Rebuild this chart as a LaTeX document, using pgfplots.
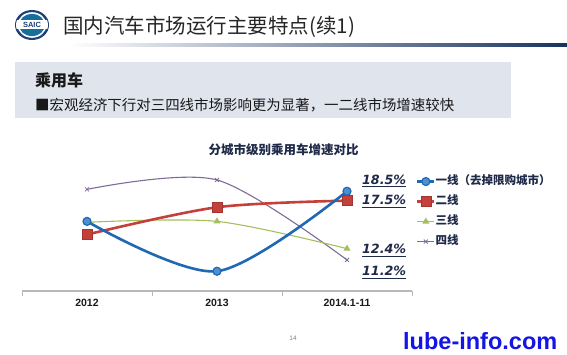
\documentclass[border=0pt]{standalone}
\usepackage{pgfplots}
\pgfplotsset{compat=1.18}
\usepackage{fontspec}
\setmainfont{Liberation Sans}
\newfontfamily\cjk{Noto Sans CJK SC}
\newfontfamily\dejavu{DejaVu Sans}
\newcommand\myul[1]{\setbox0\hbox{#1}\rlap{\rule[-3pt]{\wd0}{1.2pt}}\box0}
\definecolor{c1}{HTML}{1F68B3}
\definecolor{c1f}{HTML}{4F8FD0}
\definecolor{c2}{HTML}{C3403B}
\definecolor{c2d}{HTML}{A33430}
\definecolor{c3}{HTML}{A5BF5E}
\definecolor{c4}{HTML}{7E6B96}
\definecolor{navy}{HTML}{1F2A48}
\definecolor{boxgray}{HTML}{E0E4ED}
\definecolor{logonavy}{HTML}{1E3F78}
\definecolor{wm}{HTML}{1414E6}
\begin{document}
\begin{tikzpicture}[x=1pt,y=1pt]
\useasboundingbox (0,0) rectangle (567,354);
% logo
\fill[logonavy] (32,329) ellipse [x radius=17, y radius=15];
\fill[white] (32,329) ellipse [x radius=14.5, y radius=12.8];
\fill[logonavy!75!cyan] (32,329) ellipse [x radius=12.8, y radius=11.2];
\begin{scope}
\clip (32,329) ellipse [x radius=16, y radius=14];
\fill[white] (10,324.5) rectangle (55,333.5);
\end{scope}
\node[inner sep=0, text=logonavy] at (32,329) {\bfseries\fontsize{7.5}{8}\selectfont SAIC};
% title
\node[anchor=west, inner sep=0, text=black!85] at (63,327) {\cjk\fontsize{20.5}{24}\selectfont 国内汽车市场运行主要特点(续1)};
\shade[left color=white, right color=logonavy!80!black] (68,307.5) rectangle (567,310.5);
% box
\fill[boxgray] (15,236) rectangle (511,292);
\node[anchor=west, inner sep=0, text=black!90] at (35,274) {\cjk\bfseries\fontsize{16}{18}\selectfont 乘用车};
\node[anchor=west, inner sep=0, text=black!90] at (35,249) {\cjk\fontsize{14.45}{16}\selectfont ■宏观经济下行对三四线市场影响更为显著，一二线市场增速较快};
% chart title
\node[inner sep=0, text=navy] at (283.5,204) {\cjk\bfseries\fontsize{12.5}{14}\selectfont 分城市级别乘用车增速对比};
% page number, watermark
\node[inner sep=0, text=black!50] at (293,16) {\fontsize{6.5}{7}\selectfont 14};
\node[anchor=base west, inner sep=0, text=wm] at (403,4.5) {\bfseries\fontsize{23.5}{26}\selectfont lube-info.com};
\begin{axis}[
  at={(22pt,63pt)}, anchor=south west,
  scale only axis, width=390pt, height=130pt,
  xmin=-0.5, xmax=2.5, ymin=7.9, ymax=21.715,
  axis x line=bottom, axis y line=none,
  x axis line style={-, draw=black!28, line width=1.5pt},
  xtick={0,1,2}, xticklabels={2012,2013,2014.1-11},
  major tick length=0pt,
  minor xtick={-0.5,0.5,1.5,2.5},
  tick align=outside,
  minor tick length=5pt,
  minor tick style={draw=black!28, line width=1pt},
  xticklabel style={font=\bfseries\fontsize{10.5}{12}\selectfont, text=black!90, inner sep=0pt, yshift=-8pt},
  clip=false,
  reverse legend,
  legend style={at={(axis description cs:1.0103,0.89)}, anchor=north west, draw=none, fill=none, inner sep=0pt, outer sep=0pt, row sep=7.5pt, font=\cjk\bfseries\fontsize{11.5}{12}\selectfont, text=navy, nodes={inner sep=0pt, text height=9.5pt, text depth=3pt}},
  legend cell align=left,
]
\addplot[c4, line width=1.1pt, smooth, mark=x, mark size=2.8pt, mark options={line width=0.8pt}] coordinates {(0,18.7) (1,19.7) (2,11.2)};
\addlegendentry{四线}
\addplot[c3, line width=1.1pt, smooth, mark=triangle*, mark size=3pt, mark options={fill=c3}] coordinates {(0,15.2) (1,15.3) (2,12.4)};
\addlegendentry{三线}
\addplot[c2, line width=2.6pt, smooth, mark=square*, mark size=5pt, mark options={fill=c2, draw=c2d, line width=0.6pt}] coordinates {(0,13.9) (1,16.8) (2,17.5)};
\addlegendentry{二线}
\addplot[c1, line width=2.6pt, smooth, mark=*, mark size=4pt, mark options={fill=c1f, draw=c1, line width=1.2pt}] coordinates {(0,15.3) (1,10.0) (2,18.5)};
\addlegendentry{一线（去掉限购城市）}
\node[anchor=base west, inner sep=0, text=navy] at (axis cs:2.115,19.22) {\dejavu\bfseries\itshape\fontsize{12.7}{14}\selectfont\myul{18.5\%}};
\node[anchor=base west, inner sep=0, text=navy] at (axis cs:2.115,17.04) {\dejavu\bfseries\itshape\fontsize{12.7}{14}\selectfont\myul{17.5\%}};
\node[anchor=base west, inner sep=0, text=navy] at (axis cs:2.115,11.84) {\dejavu\bfseries\itshape\fontsize{12.7}{14}\selectfont\myul{12.4\%}};
\node[anchor=base west, inner sep=0, text=navy] at (axis cs:2.115,9.50) {\dejavu\bfseries\itshape\fontsize{12.7}{14}\selectfont\myul{11.2\%}};
\end{axis}
\end{tikzpicture}
\end{document}
